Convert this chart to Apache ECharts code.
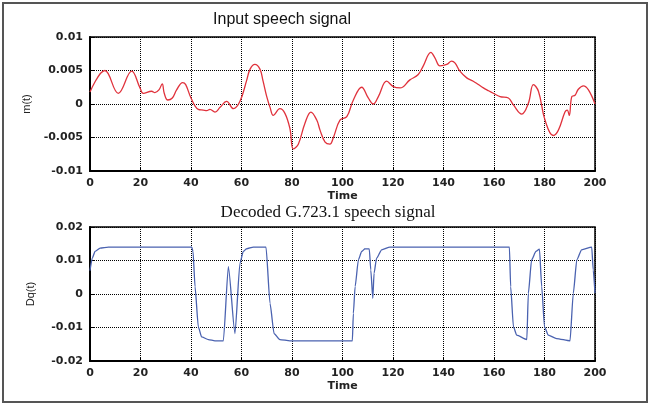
<!DOCTYPE html>
<html>
<head>
<meta charset="utf-8">
<script src="https://cdn.jsdelivr.net/npm/echarts@6/dist/echarts.min.js"></script>
<style>
html,body{margin:0;padding:0;background:#fff;}
#chart{width:652px;height:405px;}
</style>
</head>
<body>
<div id="chart"></div>
<script>
// Input speech signal m(t)
const timeIn = [0,5.9,11.2,16.5,19.8,21.1,24.4,25.7,27.3,28.6,29.4,30.8,32.6,34.3,36.7,37.9,40,42.9,44.9,46.2,47.5,49.5,51.5,54.1,56.8,59.4,62.1,63.4,65.3,67.3,68.5,70,71.3,72.6,75.2,77.2,79.2,80.5,82.5,85.1,87.5,89.8,91.1,93.1,95,96.4,99,101.7,104.3,107.6,110.2,112.2,114.2,117.5,120.1,122.8,126.7,130,132,135,136.6,138.6,141.3,143.2,144.6,146.5,149.2,151.8,153.8,155.8,157.7,159.7,162.4,165.7,167.6,171,173.6,175.6,177.6,180.2,183.5,185.5,188.1,189,189.8,190.8,192.1,193.4,195.4,197.4,200];
const valuesIn = [0.0018,0.0050,0.0016,0.0049,0.0024,0.0016,0.0019,0.0017,0.0021,0.0030,0.0016,0.0006,0.0009,0.0021,0.0032,0.0029,0.0009,-0.0008,-0.0009,-0.0010,-0.0008,-0.0012,-0.0005,0.0004,-0.0007,0.0004,0.0036,0.0052,0.0059,0.0052,0.0035,0.0011,-0.0005,-0.0017,-0.0007,-0.0014,-0.0037,-0.0067,-0.0060,-0.0029,-0.0012,-0.0024,-0.0039,-0.0057,-0.0060,-0.0050,-0.0024,-0.0019,0.0006,0.0025,0.0009,0.0000,0.0011,0.0034,0.0026,0.0024,0.0036,0.0044,0.0057,0.0077,0.0069,0.0057,0.0059,0.0064,0.0061,0.0049,0.0039,0.0034,0.0029,0.0024,0.0020,0.0016,0.0011,0.0009,-0.0001,-0.0015,0.0001,0.0029,0.0019,-0.0024,-0.0047,-0.0039,-0.0012,-0.0009,-0.0017,0.0011,0.0013,0.0022,0.0027,0.0021,0.0000];

// Decoded G.723.1 speech signal Dq(t)
const timeOut = [0,0.9,2,4,7.3,40.3,40.8,41.6,42.9,44.2,46.9,49.5,52.8,54.8,57.4,59.4,60.7,62,64.7,69.7,71.3,72.9,75.2,79.2,103.9,104.3,105,106.3,107.6,108.9,110.6,111.2,112,112.5,113.5,115.5,118.8,166.1,166.6,167.7,169,173,173.6,174.9,176.6,178,178.9,180,181.5,184.8,190.1,191.4,192.8,194.7,198.7,199.3,200];
const valuesOut = [0.0070,0.0107,0.0127,0.0137,0.0140,0.0140,0.0127,0.0022,-0.0098,-0.0128,-0.0136,-0.0140,-0.0140,0.0082,-0.0118,0.0092,0.0127,0.0135,0.0140,0.0140,-0.0028,-0.0118,-0.0136,-0.0140,-0.0140,-0.0058,0.0022,0.0102,0.0127,0.0135,0.0135,0.0072,-0.0013,0.0062,0.0107,0.0132,0.0140,0.0140,0.0022,-0.0098,-0.0123,-0.0136,0.0002,0.0102,0.0127,0.0134,0.0022,-0.0098,-0.0123,-0.0133,-0.0140,0.0002,0.0102,0.0132,0.0140,0.0072,0.0002];

const xTicks = [0,20,40,60,80,100,120,140,160,180,200];
const titles = ['Input speech signal', 'Decoded G.723.1 speech signal'];
const yNames = ['m(t)', 'Dq(t)'];

const zip = (a, b) => a.map((t, i) => [t, b[i]]);

const chart = echarts.init(document.getElementById('chart'), null, {renderer: 'canvas'});

const lbl = {color: '#222', fontFamily: 'DejaVu Sans', fontWeight: 'bold', fontSize: 11};
function xAxis(gi) {
  return {
    type: 'value', gridIndex: gi, min: 0, max: 200, interval: 20,
    name: 'Time', nameLocation: 'middle', nameGap: 20,
    nameTextStyle: Object.assign({}, lbl, {fontSize: 11}),
    axisLine: {show: true, onZero: false, lineStyle: {color: '#000', width: 2}},
    axisTick: {show: true, inside: true, length: 4, lineStyle: {color: '#000'}},
    axisLabel: Object.assign({margin: 7}, lbl),
    splitLine: {show: true, lineStyle: {color: '#000', type: [1, 1], width: 1}}
  };
}
function yAxis(gi, min, max, interval, name) {
  return {
    type: 'value', gridIndex: gi, min: min, max: max, interval: interval,
    name: name, nameLocation: 'middle', nameGap: 54,
    nameTextStyle: {color: '#222', fontFamily: 'Liberation Sans', fontSize: 11},
    axisLine: {show: true, onZero: false, lineStyle: {color: '#000', width: 2}},
    axisTick: {show: true, inside: true, length: 4, lineStyle: {color: '#000'}},
    axisLabel: Object.assign({margin: 7}, lbl),
    splitLine: {show: true, lineStyle: {color: '#000', type: [1, 1], width: 1}}
  };
}

chart.setOption({
  animation: false,
  backgroundColor: '#fff',
  grid: [
    {left: 90, top: 37, width: 505, height: 134, show: true, borderColor: '#000', borderWidth: 1.5, backgroundColor: 'transparent'},
    {left: 90, top: 227, width: 505, height: 134, show: true, borderColor: '#000', borderWidth: 1.5, backgroundColor: 'transparent'}
  ],
  xAxis: [xAxis(0), xAxis(1)],
  yAxis: [yAxis(0, -0.01, 0.01, 0.005, yNames[0]), yAxis(1, -0.02, 0.02, 0.01, yNames[1])],
  graphic: [
    {type: 'rect', shape: {x: 3, y: 3, width: 644, height: 399}, style: {fill: 'none', stroke: '#555', lineWidth: 2}, silent: true},
    {type: 'text', x: 282, y: 20, style: {text: titles[0], fill: '#111', font: '16px "Liberation Sans"', textAlign: 'center', textVerticalAlign: 'middle'}},
    {type: 'text', x: 328, y: 213, style: {text: titles[1], fill: '#111', font: '17px "Liberation Serif"', textAlign: 'center', textVerticalAlign: 'middle'}}
  ],
  series: [
    {type: 'line', xAxisIndex: 0, yAxisIndex: 0, data: zip(timeIn, valuesIn), showSymbol: false, smooth: 0.4,
     lineStyle: {color: '#e0323c', width: 1.3}},
    {type: 'line', xAxisIndex: 1, yAxisIndex: 1, data: zip(timeOut, valuesOut), showSymbol: false, smooth: 0.2, smoothMonotone: 'x',
     lineStyle: {color: '#4a62b0', width: 1.3}}
  ]
});
</script>
</body>
</html>
